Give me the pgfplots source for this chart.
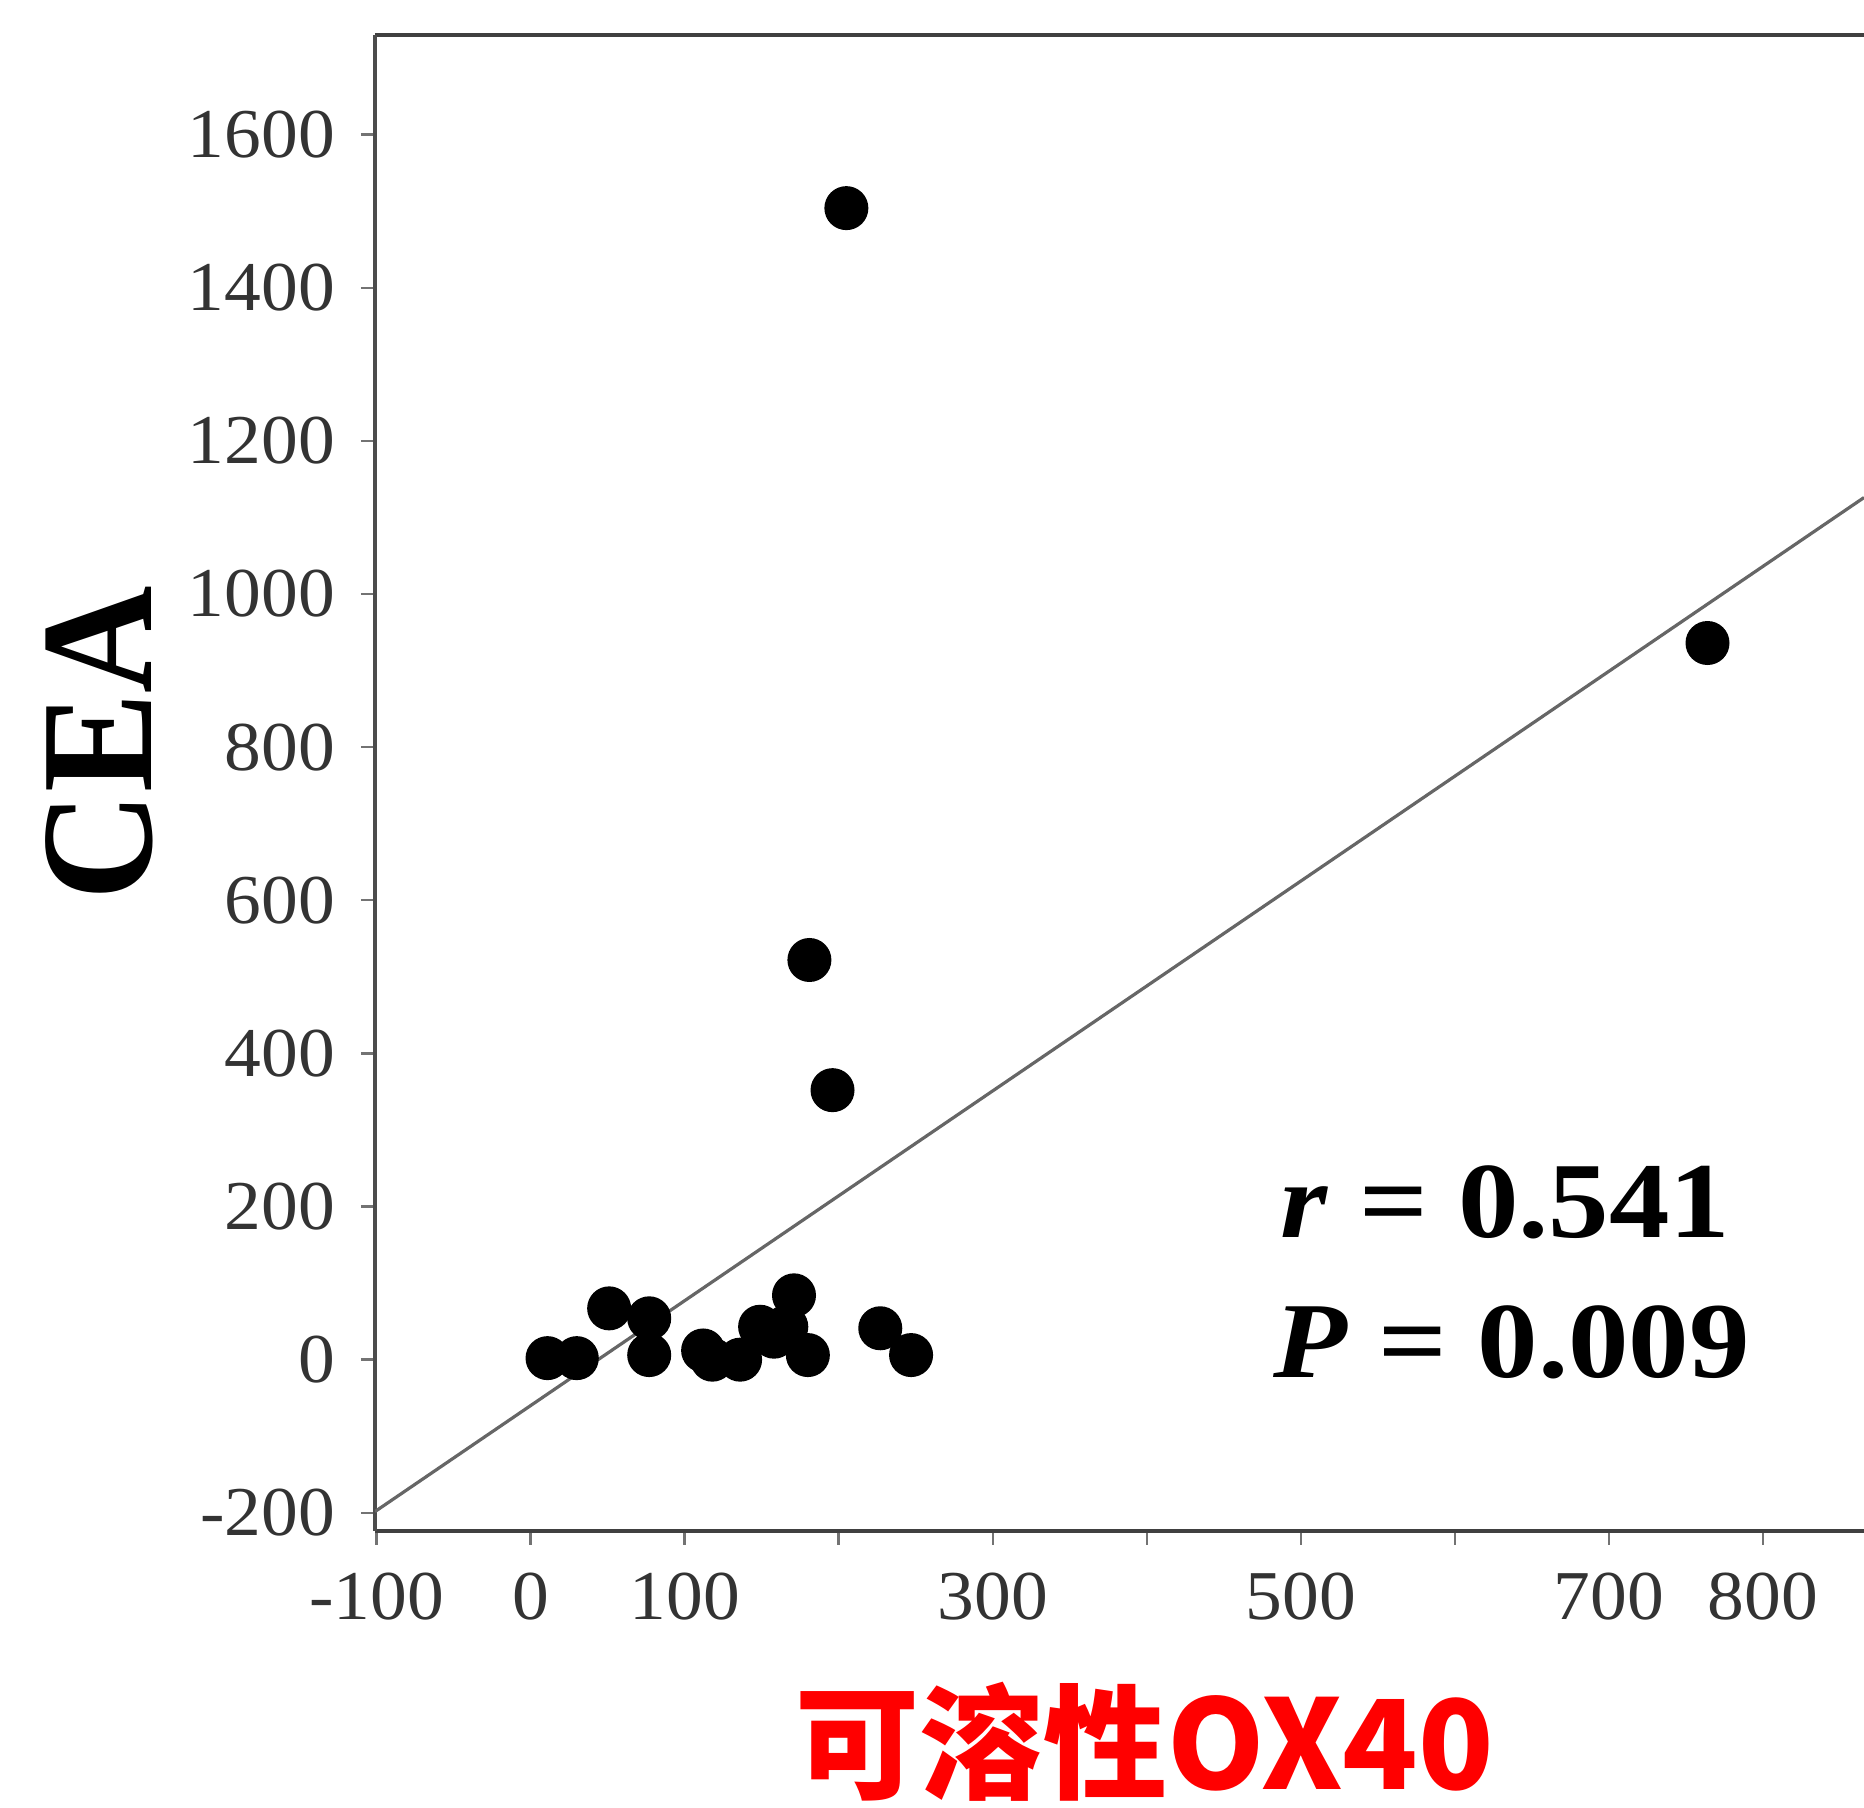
\documentclass[border=0pt]{standalone}
\usepackage{pgfplots}
\pgfplotsset{compat=1.18}
\usepackage{fontspec}
\setmainfont{Liberation Serif}
\newfontfamily\tickfont[FakeStretch=1.05]{Liberation Serif}
\newfontfamily\ceafont[FakeStretch=0.93]{Liberation Serif}
\newfontfamily\statfont[FakeStretch=1.12]{Liberation Serif}
\newfontfamily\cjk{Noto Sans CJK SC}
\begin{document}
\begin{tikzpicture}
\begin{axis}[
  scale only axis,
  width=372.25pt, height=374pt,
  xmin=-101, xmax=865.6,
  ymin=-223.5, ymax=1730.4,
  axis x line*=box,
  axis y line*=left,
  separate axis lines,
  x axis line style={line width=1pt, black!75},
  y axis line style={line width=1pt, black!70},
  xtick={-100,0,100,200,300,400,500,600,700,800},
  xticklabels={-100,0,100,,300,,500,,700,800},
  ytick={-200,0,200,400,600,800,1000,1200,1400,1600},
  yticklabels={-200,0,200,400,600,800,1000,1200,1400,1600},
  xtick pos=bottom, ytick pos=left,
  tick align=outside,
  major tick length=3.5pt,
  tick style={black!55, line width=0.6pt},
  tick label style={font=\tickfont\fontsize{17.5}{18}\selectfont, text=black!80},
  yticklabel style={xshift=-3pt},
  xticklabel style={yshift=-3.5pt},
]
\addplot[only marks, mark=*, mark size=5.3pt, black] coordinates {
 (205,1504) (181,522) (196,352) (764,936)
 (11,2) (30,2) (51,67) (77,54) (77,6)
 (112,12) (118,0) (136,0) (149,43) (158,30)
 (171,84) (166,43) (180,6) (227,41) (247,6)
};
\addplot[no marks, black!60, line width=0.8pt] coordinates {(-101,-198.4) (865.6,1126)};
\end{axis}
\node[rotate=90, anchor=base, font=\ceafont\fontsize{40}{40}\selectfont\bfseries, inner sep=0pt]
  at ([xshift=-55.75pt,yshift=196.9pt]current axis.south west) {CEA};
\node[anchor=base, text=red, font=\cjk\fontsize{31}{31}\selectfont\bfseries, inner sep=0pt]
  at ([xshift=192.4pt,yshift=-64.6pt]current axis.south west) {可溶性OX40};
\node[anchor=base west, inner sep=0pt, font=\statfont\fontsize{27}{27}\selectfont\bfseries]
  at ([xshift=226.25pt,yshift=73.4pt]current axis.south west) {\textit{r} = 0.541};
\node[anchor=base west, inner sep=0pt, font=\statfont\fontsize{27}{27}\selectfont\bfseries]
  at ([xshift=224.5pt,yshift=38.4pt]current axis.south west) {\textit{P} = 0.009};
\pgfresetboundingbox
\useasboundingbox ([xshift=-93.75pt,yshift=-69.1pt]current axis.south west) rectangle ([yshift=8.7pt]current axis.north east);
\end{tikzpicture}
\end{document}
